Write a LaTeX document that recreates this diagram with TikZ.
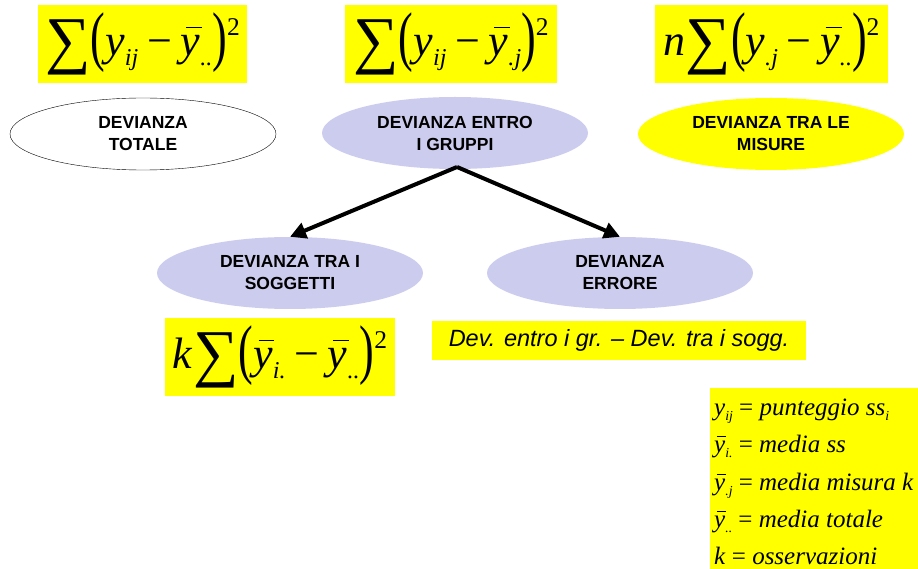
\documentclass[tikz,border=0pt]{standalone}
\usepackage{fontspec}
\setmainfont{Liberation Serif}
\newfontfamily\arialf{Liberation Sans}
\usetikzlibrary{arrows.meta,shapes.geometric}
\definecolor{lav}{RGB}{204,204,238}
\definecolor{yel}{RGB}{255,255,0}
\newcommand{\yy}{\textit{y}}
\newcommand{\yb}{\leavevmode\rlap{\hspace{0.12em}\rule[0.62em]{0.36em}{0.035em}}\textit{y}}
\newcommand{\sub}[1]{\raisebox{-0.22em}{\scalebox{0.55}{\itshape #1}}}
\newcommand{\mn}{\hspace{0.2em}−\hspace{0.2em}}
\newcommand{\bigS}{\raisebox{-0.14em}{\scalebox{1.45}{∑}}}
\newcommand{\lp}{\raisebox{-0.06em}{\scalebox{1}[1.5]{(}}}
\newcommand{\rp}{\raisebox{-0.06em}{\scalebox{1}[1.5]{)}}}
\newcommand{\sq}{\raisebox{0.46em}{\scalebox{0.58}{2}}}
\tikzset{
  fbox/.style={fill=yel,inner sep=0pt,font=\fontsize{44}{48}\selectfont},
  ell/.style={ellipse,minimum width=266pt,minimum height=72pt,inner sep=0pt,align=center,font=\arialf\bfseries\fontsize{17.5}{22}\selectfont},
  arr/.style={line width=4pt,-{Triangle[length=16pt,width=16pt]}},
  leg/.style={anchor=base west,inner sep=0pt,font=\fontsize{25}{30}\selectfont}
}
\begin{document}
\begin{tikzpicture}[x=1pt,y=-1pt]
\useasboundingbox (0,0) rectangle (918,569);
\node[fbox,minimum width=209pt,minimum height=78pt] (f1) at (142.5,44) {\bigS\lp\yy\sub{ij}\mn\yb\sub{..}\rp\sq};
\node[fbox,minimum width=212pt,minimum height=78pt] (f2) at (451,44) {\bigS\lp\yy\sub{ij}\mn\yb\sub{.j}\rp\sq};
\node[fbox,minimum width=233pt,minimum height=78pt] (f3) at (771.5,44) {\textit{n}\bigS\lp\yy\sub{.j}\mn\yb\sub{..}\rp\sq};
\node[ell,draw=black,fill=white] (tot) at (143,134) {DEVIANZA\\TOTALE};
\node[ell,fill=lav] (entro) at (455,133) {DEVIANZA ENTRO\\I GRUPPI};
\node[ell,fill=yel] (mis) at (771,134) {DEVIANZA TRA LE\\MISURE};
\node[ell,fill=lav] (sogg) at (290,273) {DEVIANZA TRA I\\SOGGETTI};
\node[ell,fill=lav] (err) at (620,273) {DEVIANZA\\ERRORE};
\coordinate (top) at (457,167);
\draw[arr] (top) -- (sogg.north);
\draw[arr] (top) -- (err.north);
\node[fbox,minimum width=230pt,minimum height=78pt] (f4) at (280,357) {\textit{k}\bigS\lp\yb\sub{i.}\mn\yb\sub{..}\rp\sq};
\node[fill=yel,minimum width=374pt,minimum height=39pt,inner sep=0pt,font=\arialf\itshape\fontsize{23.5}{26}\selectfont] (dev) at (619,340) {Dev. entro i gr. – Dev. tra i sogg.};
\node[fill=yel,minimum width=208pt,minimum height=181pt,inner sep=0pt,anchor=north west] (leg) at (710,388) {};
\node[leg] (l1) at (714,415) {\yy\sub{ij} = \textit{punteggio ss}\sub{i}};
\node[leg] (l2) at (714,452) {\yb\sub{i.} = \textit{media ss}};
\node[leg] (l3) at (714,490) {\yb\sub{.j} = \textit{media misura k}};
\node[leg] (l4) at (714,527) {\yb\sub{..} = \textit{media totale}};
\node[leg] (l5) at (714,564) {\textit{k} = \textit{osservazioni}};
\end{tikzpicture}
\end{document}
